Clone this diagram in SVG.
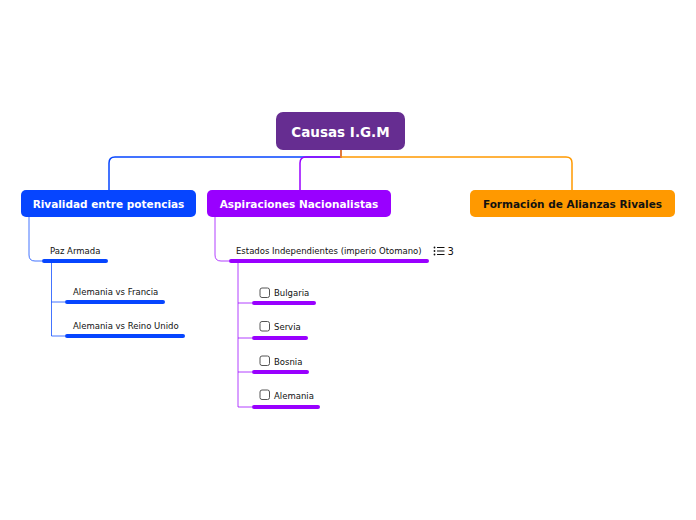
<svg xmlns="http://www.w3.org/2000/svg" width="696" height="520" viewBox="0 0 696 520">
<style>
.main{fill:none;stroke-width:1.5}
.thin{fill:none;stroke-width:1;opacity:0.75}
.bar{stroke-width:4;stroke-linecap:round}
.t{font-family:"DejaVu Sans",Verdana,sans-serif;font-size:8.5px;fill:#111}
.tb{font-family:"DejaVu Sans",Verdana,sans-serif;font-weight:bold;font-size:10.5px;text-anchor:middle}
.cb{fill:#fff;stroke:#555;stroke-width:1}
.blue{stroke:#0645ff}
.purple{stroke:#9900ff}
.orange{stroke:#ff9900}
</style>
<rect width="696" height="520" fill="#fff"/>
<g id="connectors">
<path class="main blue" d="M341,150 V157 H115 Q109,157 109,163 V190"/>
<path class="main purple" d="M341,150 V157 H306 Q300,157 300,163 V190"/>
<path class="main orange" d="M341,150 V157 H566 Q572,157 572,163 V190"/>
<path class="thin blue" d="M29,217 V255 Q29,261 35,261 H42"/>
<path class="thin blue" d="M51.5,261 V336 H65 M51.5,302 H65"/>
<path class="thin purple" d="M215,217 V255 Q215,261 221,261 H229"/>
<path class="thin purple" d="M238,261 V407 H252 M238,303 H252 M238,338 H252 M238,372 H252"/>
</g>
<g id="root">
<rect x="276" y="112" width="129" height="38" rx="7" fill="#662d91"/>
<text x="340.5" y="137" class="tb" style="font-size:13.5px" fill="#fff">Causas I.G.M</text>
</g>
<g id="n-rivalidad">
<rect x="21" y="190" width="175" height="27" rx="5" fill="#0645ff"/>
<text x="108.5" y="207.5" class="tb" fill="#fff">Rivalidad entre potencias</text>
</g>
<g id="n-aspiraciones">
<rect x="207" y="190" width="184" height="27" rx="5" fill="#9900ff"/>
<text x="299" y="207.5" class="tb" fill="#fff">Aspiraciones Nacionalistas</text>
</g>
<g id="n-formacion">
<rect x="470" y="190" width="205" height="27" rx="5" fill="#ff9900"/>
<text x="572.5" y="207.5" class="tb" fill="#111">Formación de Alianzas Rivales</text>
</g>
<g id="n-paz">
<text x="50" y="254" class="t">Paz Armada</text>
<line class="bar blue" x1="44" y1="261" x2="106" y2="261"/>
</g>
<g id="n-francia">
<text x="73" y="295" class="t">Alemania vs Francia</text>
<line class="bar blue" x1="67" y1="302" x2="163" y2="302"/>
</g>
<g id="n-reino">
<text x="73" y="329" class="t">Alemania vs Reino Unido</text>
<line class="bar blue" x1="67" y1="336" x2="183" y2="336"/>
</g>
<g id="n-estados">
<text x="236" y="254" class="t">Estados Independientes (imperio Otomano)</text>
<line class="bar purple" x1="231" y1="261" x2="427" y2="261"/>
<g fill="#111">
<circle cx="434.5" cy="247.5" r="0.9"/><circle cx="434.5" cy="251" r="0.9"/><circle cx="434.5" cy="254.5" r="0.9"/>
<rect x="437" y="247" width="7.5" height="1"/><rect x="437" y="250.5" width="7.5" height="1"/><rect x="437" y="254" width="7.5" height="1"/>
</g>
<text x="447.5" y="255" class="t" style="font-size:10px">3</text>
</g>
<g id="n-bulgaria">
<rect class="cb" x="260" y="288" width="9.5" height="9.5" rx="2"/>
<text x="274" y="296" class="t">Bulgaria</text>
<line class="bar purple" x1="254" y1="303" x2="314" y2="303"/>
</g>
<g id="n-servia">
<rect class="cb" x="260" y="321.5" width="9.5" height="9.5" rx="2"/>
<text x="274" y="330" class="t">Servia</text>
<line class="bar purple" x1="254" y1="338" x2="306" y2="338"/>
</g>
<g id="n-bosnia">
<rect class="cb" x="260" y="356" width="9.5" height="9.5" rx="2"/>
<text x="274" y="364.5" class="t">Bosnia</text>
<line class="bar purple" x1="254" y1="372" x2="307" y2="372"/>
</g>
<g id="n-alemania">
<rect class="cb" x="260" y="390" width="9.5" height="9.5" rx="2"/>
<text x="274" y="398.5" class="t">Alemania</text>
<line class="bar purple" x1="254" y1="407" x2="318" y2="407"/>
</g>
</svg>
